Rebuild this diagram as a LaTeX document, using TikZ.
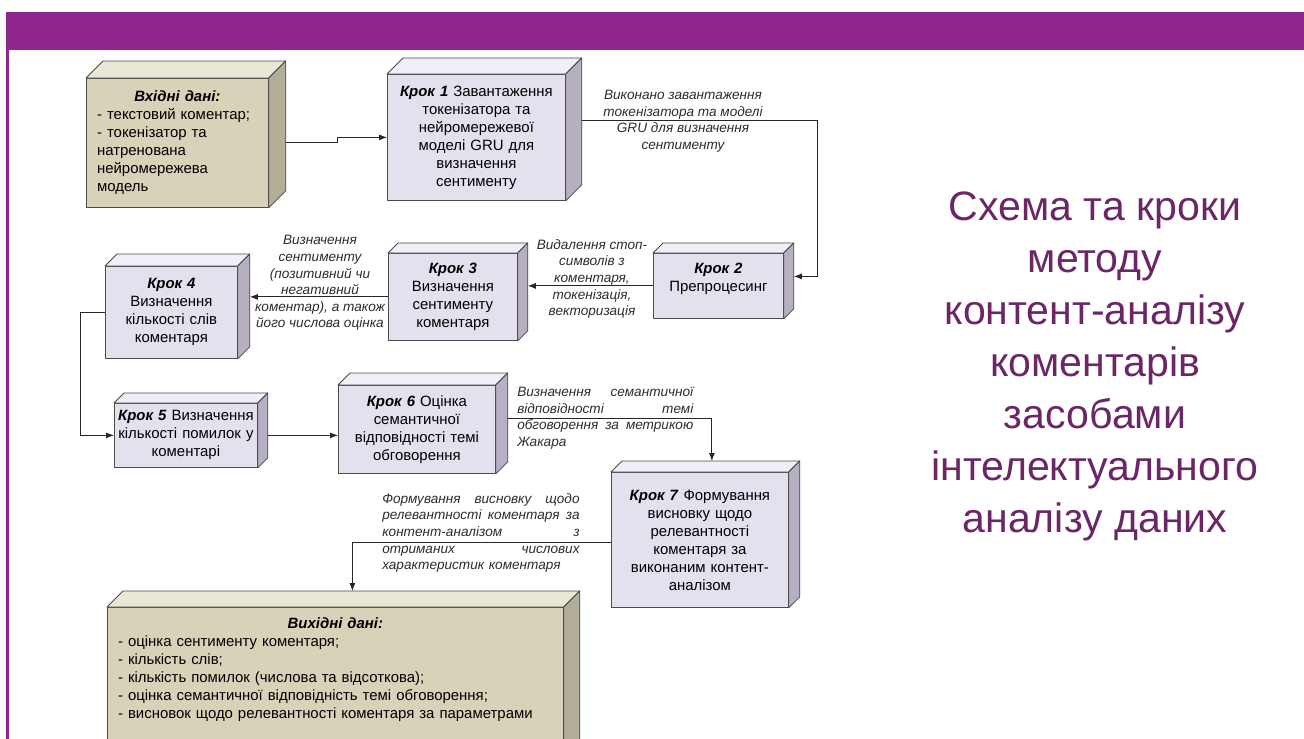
\documentclass[tikz,border=0pt]{standalone}
\usepackage{fontspec}
\setmainfont{Liberation Sans}
\usetikzlibrary{arrows.meta}

\definecolor{cBand}{RGB}{142,38,142}
\definecolor{cTitle}{RGB}{108,38,102}
\definecolor{cStepFront}{RGB}{228,224,238}
\definecolor{cStepTop}{RGB}{240,238,246}
\definecolor{cStepSide}{RGB}{182,176,194}
\definecolor{cDataFront}{RGB}{216,210,184}
\definecolor{cDataTop}{RGB}{234,231,214}
\definecolor{cDataSide}{RGB}{178,174,152}
\definecolor{cEdge}{RGB}{75,75,75}
\definecolor{cNote}{RGB}{45,45,45}

\newcommand\cbfont{\fontsize{11.2pt}{13.5pt}\selectfont}
\newcommand\cbnote{\fontsize{10.2pt}{12.4pt}\selectfont\itshape}
\newcommand\cbtitle{\fontsize{30.8pt}{39pt}\selectfont}
\newcommand\krok[1]{\textbf{\textit{Крок #1}}}

% 3D box: name, left, top, right, bottom, depth, kind (step/data), text
\newcommand\cubebox[8]{%
  \pgfmathsetlengthmacro\cbw{(#4-#2)*0.75pt}%
  \pgfmathsetlengthmacro\cbh{(#5-#3)*0.75pt}%
  \node[#7front, minimum width=\cbw, minimum height=\cbh,
        anchor=north west] (#1) at (#2,#3) {#8};
  \path[#7top] (#1.north west) -- ([shift={(#6,-#6)}]#1.north west)
     -- ([shift={(#6,-#6)}]#1.north east) -- (#1.north east) -- cycle;
  \path[#7side] (#1.north east) -- ([shift={(#6,-#6)}]#1.north east)
     -- ([shift={(#6,-#6)}]#1.south east) -- (#1.south east) -- cycle;
  \coordinate (#1s) at ([shift={(#6,0)}]#1.east);
}

\begin{document}
\begin{tikzpicture}[x=0.75pt,y=-0.75pt,
  facebase/.style={draw=cEdge, line width=0.6pt, line join=round},
  stepfront/.style={facebase, fill=cStepFront, inner ysep=2pt, inner xsep=0pt,
                    text width=\cbw-4pt, align=center, font=\cbfont},
  steptop/.style={facebase, fill=cStepTop},
  stepside/.style={facebase, fill=cStepSide},
  datafront/.style={facebase, fill=cDataFront, inner ysep=3pt, inner xsep=0pt,
                    text width=\cbw-16pt, align=left, font=\cbfont},
  datatop/.style={facebase, fill=cDataTop},
  dataside/.style={facebase, fill=cDataSide},
  flow/.style={draw=black!85, line width=0.7pt, -{Latex[length=6pt,width=4.5pt]}},
  note/.style={font=\cbnote, text=cNote, inner sep=0pt},
  justnote/.style={note, align=left, anchor=west}]

\useasboundingbox (0,0) rectangle (1304,739);
\clip (0,0) rectangle (1304,739);
\fill[white] (0,0) rectangle (1304,739);

% header band and left rule
\fill[cBand] (6,12) rectangle (1304,50);
\fill[cBand] (6,12) rectangle (8.5,739);

% boxes
\cubebox{in}{86}{78}{268}{207}{17}{data}{%
  \hspace*{\fill}\textbf{\textit{Вхідні дані:}}\hspace*{\fill}\null\\
  - текстовий коментар;\\
  - токенізатор та\\
  натренована\\
  нейромережева\\
  модель}
\cubebox{k1}{387}{74}{565}{200}{16}{step}{%
  \krok{1} Завантаження\\ токенізатора та\\ нейромережевої\\ моделі GRU для\\ визначення\\ сентименту}
\cubebox{k2}{653}{253}{783}{318}{10}{step}{%
  \krok{2}\\ Препроцесинг\\[-1pt]\mbox{}}
\cubebox{k3}{388}{253}{517}{340}{10}{step}{%
  \krok{3}\\ Визначення\\ сентименту\\ коментаря}
\cubebox{k4}{105}{266}{237}{358}{12}{step}{%
  \krok{4}\\ Визначення\\ кількості слів\\ коментаря}
\cubebox{k5}{114}{403}{257}{467}{10}{step}{%
  \krok{5} Визначення\\ кількості помилок у\\ коментарі}
\cubebox{k6}{338}{385}{495}{473}{12}{step}{%
  \krok{6} Оцінка\\ семантичної\\ відповідності темі\\ обговорення}
\cubebox{k7}{611}{472}{788}{607}{11}{step}{%
  \krok{7} Формування\\ висновку щодо\\ релевантності\\ коментаря за\\ виконаним контент-\\ аналізом}
\cubebox{out}{107}{607}{563}{608}{16}{data}{%
  \rule{0pt}{13pt}\hspace*{\fill}\textbf{\textit{Вихідні дані:}}\hspace*{\fill}\null\\
  - оцінка сентименту коментаря;\\
  - кількість слів;\\
  - кількість помилок (числова та відсоткова);\\
  - оцінка семантичної відповідність темі обговорення;\\
  - висновок щодо релевантності коментаря за параметрами\\[60pt]\strut}

% connectors
\draw[flow] (ins) -- ++(52,0) |- (k1.west);
\draw[flow] ([shift={(16,-17)}]k1.east) -- ++(236,0) |- ([shift={(0,-9.5)}]k2s);
\draw[flow] (k2.west) -- (k2.west -| k3s);
\draw[flow] (k3.west) -- (k3.west -| k4s);
\draw[flow] (k4.west) -- ++(-25,0) |- (k5.west);
\draw[flow] (k5s) -- (k5s -| k6.west);
\draw[flow] ([shift={(12,-11)}]k6.east) -| ([shift={(12,-11)}]k7.north);
\draw[flow] ([shift={(0,2.5)}]k7.west) -| ([shift={(17,-16)}]out.north);

% connector notes
\node[note, align=center] (n1) at (683,121)
  {Виконано завантаження\\ токенізатора та моделі\\ GRU для визначення\\ сентименту};
\node[note, align=center] (n2) at (592,279)
  {Видалення стоп-\\ символів з\\ коментаря,\\ токенізація,\\ векторизація};
\node[note, align=center] (n3) at (320,283)
  {Визначення\\ сентименту\\ (позитивний чи\\ негативний\\ коментар), а також\\ його числова оцінка};
\node[justnote, text width=132pt] (n4) at (517,418)
  {Визначення\hfill семантичної\\ відповідності\hfill темі\\ обговорення\hfill за\hfill метрикою\\ Жакара};
\node[justnote, text width=148pt] (n5) at (382,533)
  {Формування\hfill висновку\hfill щодо\\ релевантності\hfill коментаря\hfill за\\ контент-аналізом\hfill з\\ отриманих\hfill числових\\ характеристик коментаря};

% slide title
\node[font=\cbtitle, text=cTitle, align=center, inner sep=0pt] (title) at (1095,366)
  {Схема та кроки\\ методу\\ контент-аналізу\\ коментарів\\ засобами\\ інтелектуального\\ аналізу даних};
\end{tikzpicture}
\end{document}
